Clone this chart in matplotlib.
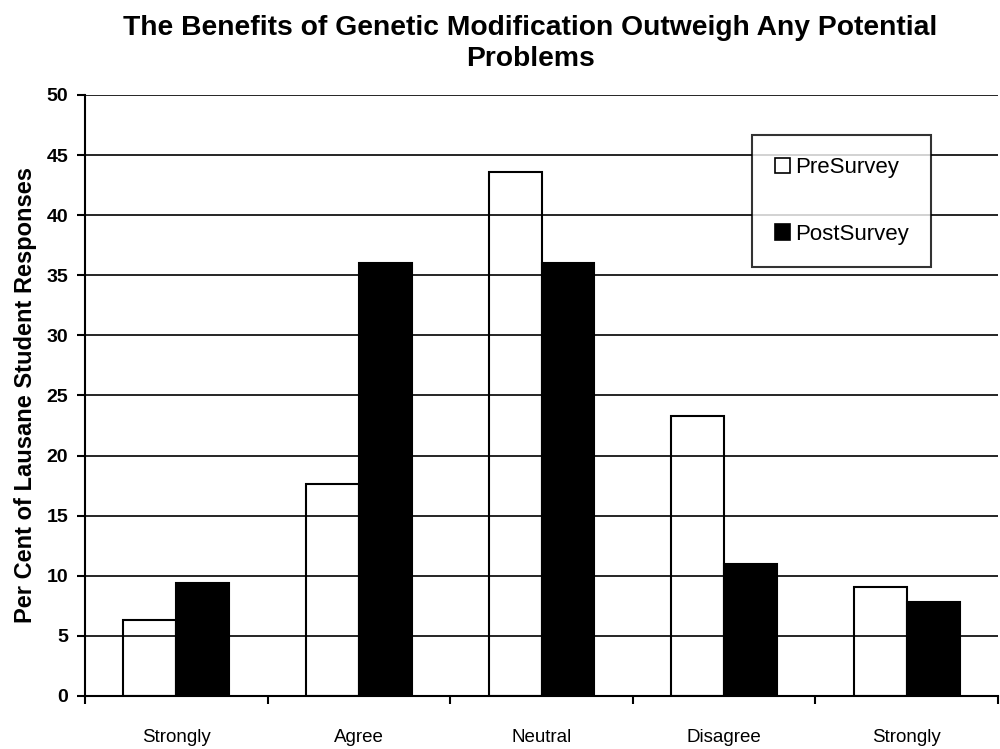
import numpy as np
import matplotlib.pyplot as plt
from matplotlib.patches import Patch

plt.rcParams['font.family'] = ['Liberation Sans', 'DejaVu Sans']

categories = ['Strongly', 'Agree', 'Neutral', 'Disagree', 'Strongly']
pre_survey = [6.3, 17.6, 43.6, 23.3, 9.1]
post_survey = [9.4, 36.0, 36.0, 11.0, 7.8]

fig = plt.figure(figsize=(10, 7.49), dpi=100)
ax = fig.add_axes([0.085, 0.0708, 0.913, 0.8025])

x = np.arange(len(categories))
w = 0.29
ax.bar(x - w / 2, pre_survey, w, facecolor='none', edgecolor='black', lw=1.5, zorder=3)
ax.bar(x + w / 2, post_survey, w, facecolor='black', edgecolor='black', lw=1.5, zorder=3)

ax.set_ylim(0, 50)
ax.set_xlim(-0.5, len(categories) - 0.5)
ax.set_yticks(np.arange(0, 51, 5))
for lbl in ax.get_yticklabels():
    lbl.set_fontweight('bold')
ax.tick_params(axis='y', labelsize=14, length=6, width=1.5, direction='out', pad=6)
ax.yaxis.grid(True, color='black', lw=1.2, zorder=0)
ax.set_axisbelow(True)

ax.set_xticks(x)
ax.set_xticklabels(categories, fontsize=13.5)
ax.set_xticks(np.arange(-0.5, len(categories), 1), minor=True)
ax.tick_params(axis='x', which='major', length=0, pad=24)
ax.tick_params(axis='x', which='minor', length=6, width=1.5, direction='out')

for s in ('top', 'right'):
    ax.spines[s].set_visible(False)
ax.spines['left'].set_linewidth(1.5)
ax.spines['bottom'].set_linewidth(1.5)

ax.set_ylabel('Per Cent of Lausane Student Responses', fontsize=17, fontweight='bold', labelpad=7)

fig.text(0.53, 0.98, 'The Benefits of Genetic Modification Outweigh Any Potential\nProblems',
         ha='center', va='top', fontsize=20.3, fontweight='bold', linespacing=1.25)

handles = [Patch(facecolor='white', edgecolor='black', lw=1.2),
           Patch(facecolor='black', edgecolor='black', lw=1.2)]
leg = ax.legend(handles, ['PreSurvey', 'PostSurvey'], loc='upper left',
                bbox_to_anchor=(0.731, 0.933), fontsize=16, frameon=True, fancybox=False,
                handlelength=0.7, handleheight=0.7, handletextpad=0.2,
                labelspacing=2.05, borderpad=1.0, borderaxespad=0)
leg.get_frame().set_edgecolor('black')
leg.get_frame().set_linewidth(1.5)
leg.set_zorder(5)

fig.savefig('out.png', dpi=100)
